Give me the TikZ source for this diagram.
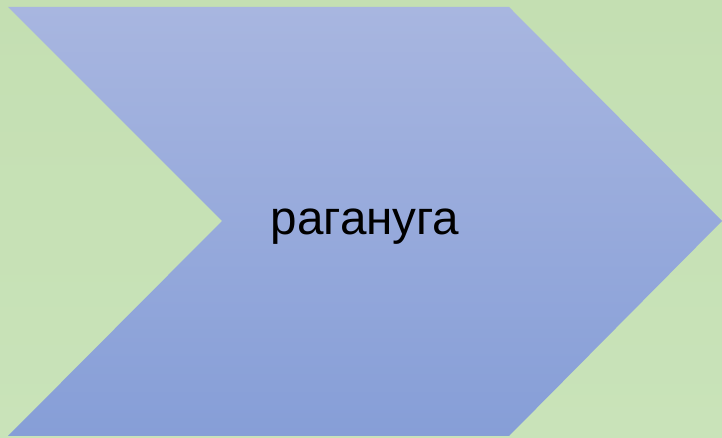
\documentclass[tikz,border=0pt]{standalone}
\usepackage{fontspec}
\setmainfont{Liberation Sans}
\definecolor{bgtop}{HTML}{C4DFB2}
\definecolor{bgbot}{HTML}{C9E3B9}
\definecolor{chtop}{HTML}{A8B6E0}
\definecolor{chbot}{HTML}{869ED7}
\tikzset{chevlabel/.style={font=\fontsize{47.6}{56}\selectfont, text=black, inner sep=0pt, anchor=base}}
\begin{document}
\begin{tikzpicture}[x=1pt,y=1pt]
\useasboundingbox (0,0) rectangle (722,438);
\shade[top color=bgtop, bottom color=bgbot] (0,0) rectangle (722,438);
\shade[top color=chtop, bottom color=chbot] (8,431) -- (509,431) -- (722,217) -- (509,2) -- (8,2) -- (222,217) -- cycle;
\node[chevlabel] (lbl) at (365,203) {^^^^0440^^^^0430^^^^0433^^^^0430^^^^043d^^^^0443^^^^0433^^^^0430};
\end{tikzpicture}
\end{document}
